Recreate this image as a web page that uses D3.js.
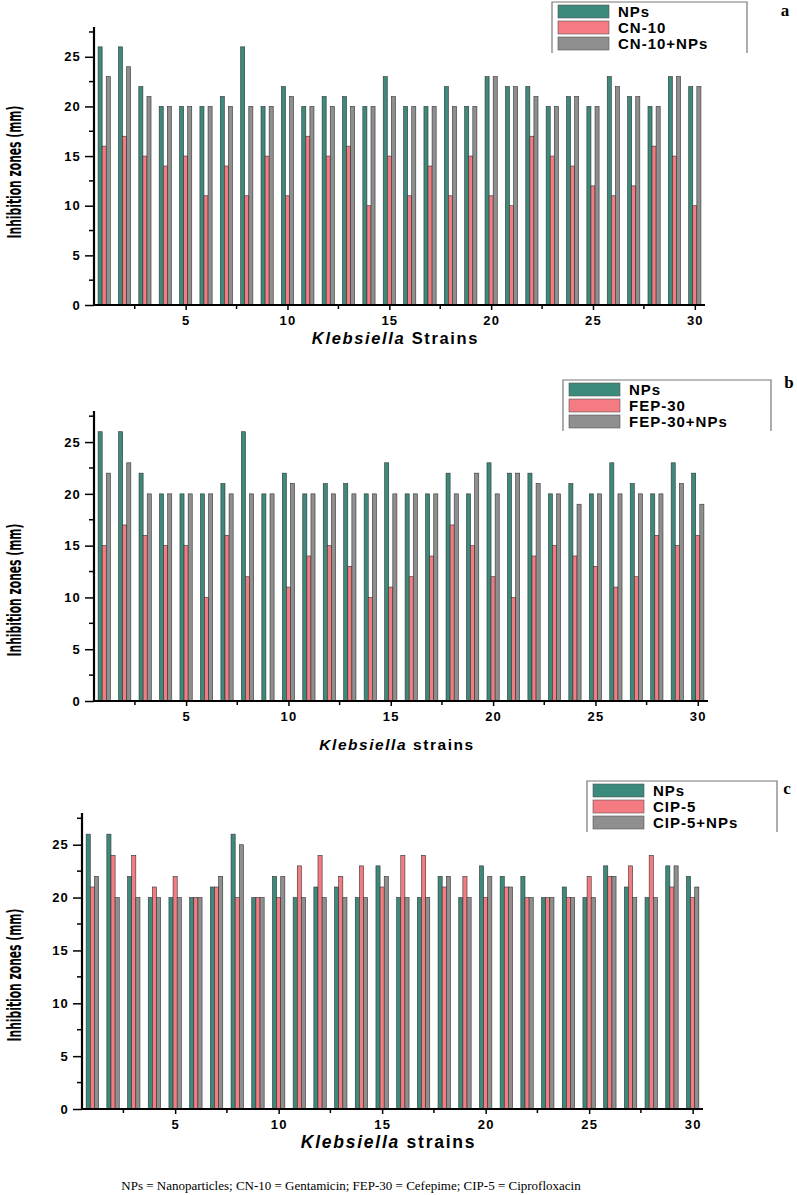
<!DOCTYPE html>
<html>
<head>
<meta charset="utf-8">
<script src="https://cdn.jsdelivr.net/npm/d3@7"></script>
<style>
  body { margin: 0; background: #fff; }
  svg { display: block; }
  .tick text { font-family: "Liberation Sans", Arial, sans-serif; font-weight: bold; }
</style>
</head>
<body>
<div id="chart"></div>
<script>
// Klebsiella strains 1..30
const strains = d3.range(1, 31);

// NPs alone – same readings in all three panels
const npsZones = [26,26,22,20,20,20,21,26,20,22,20,21,21,20,23,20,20,22,20,23,22,22,20,21,20,23,21,20,23,22];

// a: Gentamicin
const cn10Zones    = [16,17,15,14,15,11,14,11,15,11,17,15,16,10,15,11,14,11,15,11,10,17,15,14,12,11,12,16,15,10];
const cn10NpsZones = [23,24,21,20,20,20,20,20,20,21,20,20,20,20,21,20,20,20,20,23,22,21,20,21,20,22,21,20,23,22];

// b: Cefepime (strain 9 shows no zone)
const fep30Zones    = [15,17,16,15,15,10,16,12,0,11,14,15,13,10,11,12,14,17,15,12,10,14,15,14,13,11,12,16,15,16];
const fep30NpsZones = [22,23,20,20,20,20,20,20,20,21,20,20,20,20,20,20,20,20,22,20,22,21,20,19,20,20,20,20,21,19];

// c: Ciprofloxacin
const cip5Zones    = [21,24,24,21,22,20,21,20,20,20,23,24,22,23,21,24,24,21,22,20,21,20,20,20,22,22,23,24,21,20];
const cip5NpsZones = [22,20,20,20,20,20,22,25,20,22,20,20,20,20,22,20,20,22,20,22,21,20,20,20,20,22,20,20,23,21];

const yTicks = [0, 5, 10, 15, 20, 25];
const xTicks = [5, 10, 15, 20, 25, 30];
const colors = ["#3b8a7b", "#f47b82", "#8f8f8f"];

const panels = [
  { letter: "a", drug: "CN-10",  a: cn10Zones,  b: cn10NpsZones,  title: "Strains",
    left: 94, right: 705, top: 27, bottom: 305, legend: [552, 747, 2],
    labelY: 172, titleY: 344, titleSize: 16.5, letterPos: [785, 16] },
  { letter: "b", drug: "FEP-30", a: fep30Zones, b: fep30NpsZones, title: "strains",
    left: 94, right: 708, top: 411, bottom: 701, legend: [563, 771, 380],
    labelY: 590, titleY: 750, titleSize: 15.5, letterPos: [789, 388] },
  { letter: "c", drug: "CIP-5",  a: cip5Zones,  b: cip5NpsZones,  title: "strains",
    left: 82, right: 703, top: 813, bottom: 1109, legend: [587, 777, 781],
    labelY: 975, titleY: 1148, titleSize: 17.5, letterPos: [787, 794] }
];

const svg = d3.select("#chart").append("svg")
  .attr("width", 797).attr("height", 1195);

panels.forEach(p => {
  const g = svg.append("g");
  const series = [npsZones, p.a, p.b];
  const names = ["NPs", p.drug, p.drug + "+NPs"];

  const x = d3.scaleLinear().domain([0.5, 30.5]).range([p.left, p.right]);
  const y = d3.scaleLinear().domain([0, 28]).range([p.bottom, p.top]);
  const step = x(2) - x(1);
  const bw = step * 0.2;

  // bars
  series.forEach((vals, si) => {
    g.append("g").selectAll("rect")
      .data(vals.map((v, i) => ({ s: strains[i], v })))
      .join("rect")
      .attr("x", d => x(d.s) + (si - 1.5) * bw)
      .attr("y", d => y(d.v))
      .attr("width", bw)
      .attr("height", d => y(0) - y(d.v))
      .attr("fill", colors[si])
      .attr("stroke", "#333")
      .attr("stroke-width", d => d.v > 0 ? 0.6 : 0);
  });

  // y axis
  const yAxis = g.append("g").attr("transform", `translate(${p.left},0)`)
    .call(d3.axisLeft(y).tickValues(yTicks).tickSize(9).tickPadding(4));
  yAxis.append("g").selectAll("line")
    .data(d3.range(2.5, 28, 5))
    .join("line")
    .attr("x1", -5).attr("x2", 0)
    .attr("y1", d => y(d)).attr("y2", d => y(d))
    .attr("stroke", "#000").attr("stroke-width", 1.5);
  yAxis.select(".domain").attr("d", `M0,${y(0)}V${y(28)}`);

  // x axis
  const xAxis = g.append("g").attr("transform", `translate(0,${p.bottom})`)
    .call(d3.axisBottom(x).tickValues(xTicks).tickSize(5).tickPadding(6));
  xAxis.append("g").selectAll("line")
    .data(d3.range(2.5, 30, 5))
    .join("line")
    .attr("x1", d => x(d)).attr("x2", d => x(d))
    .attr("y1", 0).attr("y2", 4)
    .attr("stroke", "#000").attr("stroke-width", 1.5);
  xAxis.select(".domain").attr("d", `M${p.left},0H${p.right}`);

  [yAxis, xAxis].forEach(ax => {
    ax.select(".domain").attr("stroke-width", 2.2).attr("stroke", "#000");
    ax.selectAll(".tick line").attr("stroke-width", 1.5);
    ax.selectAll(".tick text").attr("font-size", 13).attr("letter-spacing", 1.2).attr("fill", "#000");
  });

  // axis titles (condensed look via textLength)
  g.append("text")
    .attr("transform", `translate(21,${p.labelY}) rotate(-90)`)
    .attr("text-anchor", "middle")
    .attr("font-family", "'Liberation Sans Narrow', 'DejaVu Sans Condensed', sans-serif")
    .attr("font-weight", "bold")
    .attr("font-size", 19.5)
    .attr("textLength", 133)
    .attr("lengthAdjust", "spacingAndGlyphs")
    .text("Inhibition zones (mm)");

  const xt = g.append("text")
    .attr("x", (p.left + p.right) / 2 - 4)
    .attr("y", p.titleY)
    .attr("text-anchor", "middle")
    .attr("font-family", "'Liberation Sans', Arial, sans-serif")
    .attr("font-weight", "bold")
    .attr("font-size", p.titleSize)
    .attr("letter-spacing", p.titleSize / 10);
  xt.append("tspan").attr("font-style", "italic").text("Klebsiella");
  xt.append("tspan").text(" " + p.title);

  // legend (box open at the bottom)
  const [lx0, lx1, ly0] = p.legend;
  const lg = g.append("g");
  lg.append("path")
    .attr("d", `M${lx0},${ly0 + 51}V${ly0}H${lx1}V${ly0 + 51}`)
    .attr("fill", "none").attr("stroke", "#777").attr("stroke-width", 1.2);
  names.forEach((n, i) => {
    const yy = ly0 + 3 + i * 16;
    lg.append("rect")
      .attr("x", lx0 + 6).attr("y", yy)
      .attr("width", 51).attr("height", 13)
      .attr("fill", colors[i]).attr("stroke", "#555").attr("stroke-width", 0.6);
    lg.append("text")
      .attr("x", lx0 + 66).attr("y", yy + 12)
      .attr("font-family", "'Liberation Sans', Arial, sans-serif")
      .attr("font-weight", "bold").attr("font-size", 15)
      .attr("letter-spacing", 1)
      .text(n);
  });

  g.append("text")
    .attr("x", p.letterPos[0]).attr("y", p.letterPos[1])
    .attr("text-anchor", "middle")
    .attr("font-family", "'Liberation Serif', 'Times New Roman', serif")
    .attr("font-weight", "bold").attr("font-size", 17)
    .text(p.letter);
});

svg.append("text")
  .attr("x", 351).attr("y", 1190)
  .attr("text-anchor", "middle")
  .attr("font-family", "'Liberation Serif', 'Times New Roman', serif")
  .attr("font-size", 13)
  .text("NPs = Nanoparticles; CN-10 = Gentamicin; FEP-30 = Cefepime; CIP-5 = Ciprofloxacin");
</script>
</body>
</html>
